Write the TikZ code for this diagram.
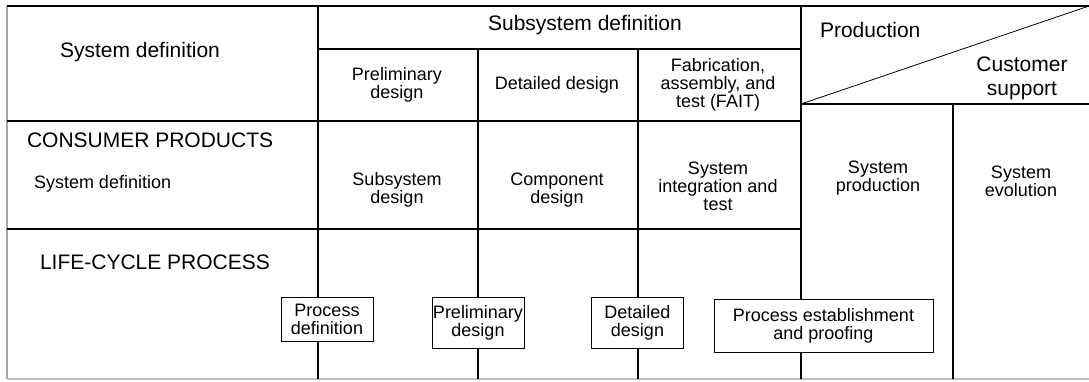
\documentclass[tikz,border=0pt]{standalone}
\usepackage{fontspec}
\setmainfont{Liberation Sans}

\begin{document}
\begin{tikzpicture}
[x=0.5pt,y=-0.5pt,
 every node/.style={inner sep=0mm,outer sep=0mm},
 head/.style={font=\fontsize{10.5}{12}\selectfont},
 lab/.style={anchor=west,font=\fontsize{10.5}{12}\selectfont},
 cell/.style={align=center,font=\fontsize{9}{9}\selectfont},
 proc/.style={draw=black,fill=white,thin,align=center,minimum width=46pt,minimum height=25.5pt,font=\fontsize{9}{9}\selectfont},
 rule/.style={line width=1pt}]
\useasboundingbox (0,0) rectangle (1089,381);

% frame and table rules
\draw[gray!70,line width=1pt] (7,6) -- (7,379);
\draw[gray!50,line width=1pt] (7,379) -- (1089,379);
\draw[rule] (7,6) -- (1089,6);
\draw[rule] (318,6) -- (318,379);
\draw[rule] (478,49) -- (478,379);
\draw[rule] (638,49) -- (638,379);
\draw[rule] (801,6) -- (801,379);
\draw[rule] (953,104) -- (953,379);
\draw[rule] (318,49) -- (801,49);
\draw[rule] (7,121) -- (801,121);
\draw[rule] (7,229) -- (801,229);
\draw[rule] (801,104) -- (1089,104);
\draw[thin] (801,104) -- (1089,6);

% header
\node[head] (sysdef)  at (140,52)  {System definition};
\node[head] (subdef)  at (585,25)  {Subsystem definition};
\node[cell] (prelim)  at (397,85)  {Preliminary\\design};
\node[cell] (detail)  at (557,85)  {Detailed design};
\node[cell] (fait)    at (718,85)  {Fabrication,\\assembly, and\\test (FAIT)};
\node[lab]  (prod)    at (820,30)  {Production};
\node[head,align=center] (custsup) at (1022,78) {Customer\\support};

% consumer products row
\node[lab]  (consumer) at (27,140) {CONSUMER PRODUCTS};
\node[cell,anchor=west] (sysdef2) at (34,184) {System definition};
\node[cell] (subdes)  at (397,190) {Subsystem\\design};
\node[cell] (compdes) at (557,190) {Component\\design};
\node[cell] (sysint)  at (718,186) {System\\integration and\\test};
\node[cell] (sysprod) at (878,178) {System\\production};
\node[cell] (sysevo)  at (1021,181) {System\\evolution};

% life-cycle process row
\node[lab]  (lifecycle) at (40,262) {LIFE-CYCLE PROCESS};
\node[proc,minimum height=22pt] (procdef) at (327,319) {Process\\definition};
\node[proc] (prelim2)  at (478,322.5) {Preliminary\\design};
\node[proc] (detail2)  at (637.5,322.5) {Detailed\\design};
\node[proc,minimum width=109.5pt,minimum height=26.5pt] (procest) at (823.5,325.5) {Process establishment\\and proofing};
\end{tikzpicture}
\end{document}
